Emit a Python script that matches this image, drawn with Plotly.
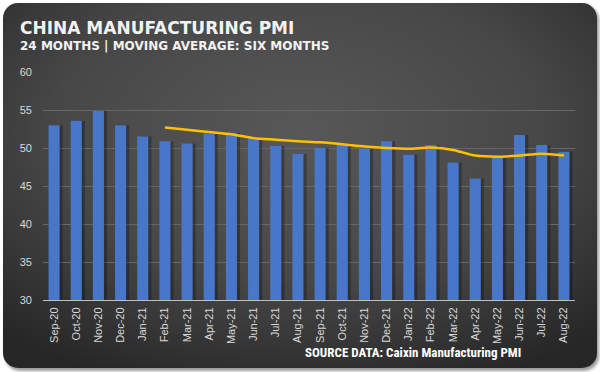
import base64
import plotly.graph_objects as go

months = ["Sep-20", "Oct-20", "Nov-20", "Dec-20", "Jan-21", "Feb-21", "Mar-21", "Apr-21",
          "May-21", "Jun-21", "Jul-21", "Aug-21", "Sep-21", "Oct-21", "Nov-21", "Dec-21",
          "Jan-22", "Feb-22", "Mar-22", "Apr-22", "May-22", "Jun-22", "Jul-22", "Aug-22"]
pmi = [53.0, 53.6, 54.9, 53.0, 51.5, 50.9, 50.6, 51.9, 52.0, 51.3, 50.3, 49.2,
       50.0, 50.6, 49.9, 50.9, 49.1, 50.4, 48.1, 46.0, 48.9, 51.7, 50.4, 49.5]
ma_months = months[5:]
ma_values = [52.7, 52.4, 52.1, 51.8, 51.3, 51.1, 50.9, 50.75, 50.5, 50.2, 50.0, 49.9,
             50.05, 49.75, 49.0, 48.85, 49.0, 49.25, 49.0]
y_ticks = [30, 35, 40, 45, 50, 55, 60]

W, H = 600, 372
L, R, T, B = 43, 25, 72, 72
pw, ph = W - L - R, H - T - B

svg = f'''<svg xmlns="http://www.w3.org/2000/svg" width="{W}" height="{H}" viewBox="0 0 {W} {H}">
<defs>
<radialGradient id="g" cx="0.5" cy="0.35" r="0.75">
<stop offset="0" stop-color="#585858"/>
<stop offset="0.55" stop-color="#474747"/>
<stop offset="1" stop-color="#262626"/>
</radialGradient>
<linearGradient id="b" x1="0" y1="0" x2="0" y2="1">
<stop offset="0" stop-color="#000000" stop-opacity="0"/>
<stop offset="1" stop-color="#000000" stop-opacity="0"/>
</linearGradient>
<filter id="s" x="-5%" y="-5%" width="110%" height="110%">
<feGaussianBlur stdDeviation="1.5"/>
</filter>
</defs>
<rect x="0" y="0" width="{W}" height="{H}" fill="#ffffff"/>
<rect x="5" y="5" width="594" height="366" rx="15" ry="15" fill="#9a9a9a" filter="url(#s)"/>
<rect x="3" y="3" width="594" height="365" rx="15" ry="15" fill="url(#g)"/>
</svg>'''
src = "data:image/svg+xml;base64," + base64.b64encode(svg.encode()).decode()

fig = go.Figure()
fig.add_trace(go.Bar(
    x=months, y=pmi,
    marker=dict(color="rgba(0,0,0,0.28)", line=dict(width=0)),
    width=0.5, offset=-0.25 + 0.14, hoverinfo="skip", showlegend=False,
))
fig.add_trace(go.Bar(
    x=months, y=pmi,
    marker=dict(color="#4876c9", line=dict(width=0)),
    width=0.5, offset=-0.25, showlegend=False,
))
fig.add_trace(go.Scatter(
    x=ma_months, y=ma_values, mode="lines",
    line=dict(color="#ffc000", width=2.5, shape="spline", smoothing=0.8),
    showlegend=False,
))

fig.update_layout(
    width=W, height=H,
    margin=dict(l=L, r=R, t=T, b=B, pad=0),
    paper_bgcolor="#ffffff",
    plot_bgcolor="rgba(0,0,0,0)",
    barmode="overlay",
    images=[dict(source=src, xref="paper", yref="paper",
                 x=-L / pw, y=1 + T / ph, sizex=W / pw, sizey=H / ph,
                 xanchor="left", yanchor="top", sizing="stretch", layer="below")],
    xaxis=dict(
        type="category", categoryorder="array", categoryarray=months,
        range=[-0.5, len(months) - 0.5],
        tickangle=-90, showgrid=False, ticks="",
        showline=True, linecolor="#bfbfbf", linewidth=1,
        tickfont=dict(family="Liberation Sans", size=11, color="#d9d9d9"),
        ticklabelstandoff=2,
    ),
    yaxis=dict(
        range=[30, 60], tickvals=y_ticks, ticktext=[str(v) for v in y_ticks],
        showgrid=True, gridcolor="#666666", gridwidth=1, zeroline=False,
        ticks="", showline=False,
        tickfont=dict(family="Liberation Sans", size=11, color="#d9d9d9"),
        ticklabelstandoff=10,
    ),
    annotations=[
        dict(text="<b>CHINA MANUFACTURING PMI</b>", xref="paper", yref="paper",
             x=(18 - L) / pw, y=(H - B - 27.5) / ph, xanchor="left", yanchor="middle",
             showarrow=False, font=dict(family="DejaVu Sans", size=17, color="#f2f2f2")),
        dict(text="<b>24 MONTHS | MOVING AVERAGE: SIX MONTHS</b>", xref="paper", yref="paper",
             x=(18 - L) / pw, y=(H - B - 46.5) / ph, xanchor="left", yanchor="middle",
             showarrow=False, font=dict(family="DejaVu Sans", size=12, color="#f2f2f2")),
        dict(text="<b>SOURCE DATA: Caixin Manufacturing PMI</b>", xref="paper", yref="paper",
             x=(523 - L) / pw, y=(H - B - 352) / ph, xanchor="right", yanchor="middle",
             showarrow=False,
             font=dict(family="Liberation Sans Narrow, Roboto Condensed, Liberation Sans", size=13, color="#ffffff")),
    ],
)

fig.write_html("out.html", config={"displayModeBar": False},
               post_script="document.body.style.margin='0';document.body.style.overflow='hidden';")
